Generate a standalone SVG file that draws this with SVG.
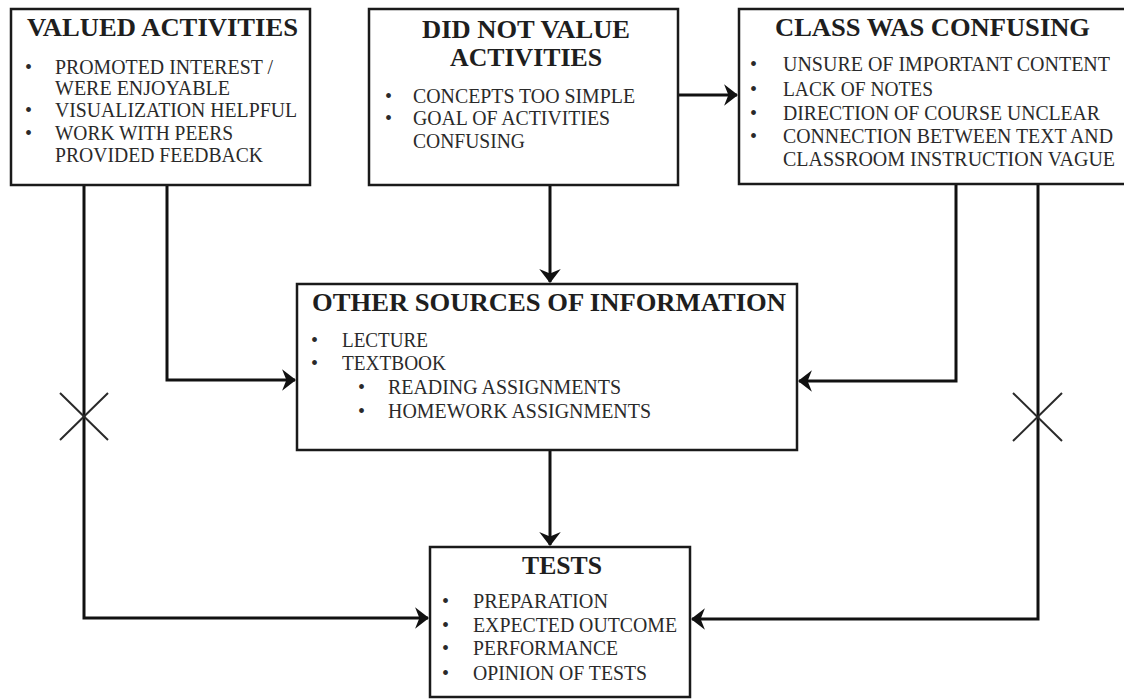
<svg xmlns="http://www.w3.org/2000/svg" width="1124" height="700" viewBox="0 0 1124 700">
<style>
.box{fill:#fff;stroke:#1a1a1a;stroke-width:2.5}
.t{font-family:"Liberation Serif","Times New Roman",serif;font-weight:bold;font-size:26px;fill:#1e1e1e}
.b{font-family:"Liberation Serif","Times New Roman",serif;font-size:20px;fill:#2a2a2a}
.c{fill:none;stroke:#111;stroke-width:3}
.x{stroke:#2a2a2a;stroke-width:2;fill:none}
</style>
<defs>
<marker id="ah" markerUnits="userSpaceOnUse" markerWidth="14" markerHeight="22" viewBox="0 0 13 20" refX="12" refY="10" orient="auto">
<path d="M0,0 L13,10 L0,20 L4,10 Z" fill="#111"/>
</marker>
</defs>
<rect width="1124" height="700" fill="#fff"/>

<g id="connectors">
<polyline class="c" points="84,185 84,618 428,618" marker-end="url(#ah)"/>
<polyline class="c" points="167,185 167,380 295,380" marker-end="url(#ah)"/>
<polyline class="c" points="550,185 550,282" marker-end="url(#ah)"/>
<polyline class="c" points="678,95 737,95" marker-end="url(#ah)"/>
<polyline class="c" points="956,185 956,381 799,381" marker-end="url(#ah)"/>
<polyline class="c" points="1038,185 1038,619 692,619" marker-end="url(#ah)"/>
<polyline class="c" points="550,450 550,545" marker-end="url(#ah)"/>
<path class="x" d="M60,393 L108,440 M108,393 L60,440"/>
<path class="x" d="M1013,393 L1062,441 M1062,393 L1013,441"/>
</g>

<g id="valued">
<rect class="box" x="11" y="9" width="299" height="176"/>
<text class="t" x="27" y="36" textLength="271" lengthAdjust="spacingAndGlyphs">VALUED ACTIVITIES</text>
<text class="b" x="25" y="74">•</text>
<text class="b" x="55" y="74" textLength="218" lengthAdjust="spacingAndGlyphs">PROMOTED INTEREST /</text>
<text class="b" x="55" y="95" textLength="175" lengthAdjust="spacingAndGlyphs">WERE ENJOYABLE</text>
<text class="b" x="25" y="117">•</text>
<text class="b" x="55" y="117" textLength="242" lengthAdjust="spacingAndGlyphs">VISUALIZATION HELPFUL</text>
<text class="b" x="25" y="140">•</text>
<text class="b" x="55" y="140" textLength="178" lengthAdjust="spacingAndGlyphs">WORK WITH PEERS</text>
<text class="b" x="55" y="162" textLength="208" lengthAdjust="spacingAndGlyphs">PROVIDED FEEDBACK</text>
</g>

<g id="didnot">
<rect class="box" x="369" y="9" width="309" height="176"/>
<text class="t" x="422" y="38" textLength="208" lengthAdjust="spacingAndGlyphs">DID NOT VALUE</text>
<text class="t" x="450" y="66" textLength="152" lengthAdjust="spacingAndGlyphs">ACTIVITIES</text>
<text class="b" x="385" y="103">•</text>
<text class="b" x="413" y="103" textLength="222" lengthAdjust="spacingAndGlyphs">CONCEPTS TOO SIMPLE</text>
<text class="b" x="385" y="125">•</text>
<text class="b" x="413" y="125" textLength="197" lengthAdjust="spacingAndGlyphs">GOAL OF ACTIVITIES</text>
<text class="b" x="413" y="148" textLength="112" lengthAdjust="spacingAndGlyphs">CONFUSING</text>
</g>

<g id="confusing">
<rect class="box" x="739" y="9" width="390" height="175"/>
<text class="t" x="775" y="36" textLength="315" lengthAdjust="spacingAndGlyphs">CLASS WAS CONFUSING</text>
<text class="b" x="750" y="71">•</text>
<text class="b" x="783" y="71" textLength="327" lengthAdjust="spacingAndGlyphs">UNSURE OF IMPORTANT CONTENT</text>
<text class="b" x="750" y="96">•</text>
<text class="b" x="783" y="96" textLength="150" lengthAdjust="spacingAndGlyphs">LACK OF NOTES</text>
<text class="b" x="750" y="120">•</text>
<text class="b" x="783" y="120" textLength="317" lengthAdjust="spacingAndGlyphs">DIRECTION OF COURSE UNCLEAR</text>
<text class="b" x="750" y="143">•</text>
<text class="b" x="783" y="143" textLength="330" lengthAdjust="spacingAndGlyphs">CONNECTION BETWEEN TEXT AND</text>
<text class="b" x="783" y="166" textLength="332" lengthAdjust="spacingAndGlyphs">CLASSROOM INSTRUCTION VAGUE</text>
</g>

<g id="other">
<rect class="box" x="297" y="284" width="500" height="166"/>
<text class="t" x="312" y="311" textLength="474" lengthAdjust="spacingAndGlyphs">OTHER SOURCES OF INFORMATION</text>
<text class="b" x="311" y="347">•</text>
<text class="b" x="342" y="347" textLength="86" lengthAdjust="spacingAndGlyphs">LECTURE</text>
<text class="b" x="311" y="370">•</text>
<text class="b" x="342" y="370" textLength="104" lengthAdjust="spacingAndGlyphs">TEXTBOOK</text>
<text class="b" x="358" y="394">•</text>
<text class="b" x="388" y="394" textLength="233" lengthAdjust="spacingAndGlyphs">READING ASSIGNMENTS</text>
<text class="b" x="358" y="418">•</text>
<text class="b" x="388" y="418" textLength="263" lengthAdjust="spacingAndGlyphs">HOMEWORK ASSIGNMENTS</text>
</g>

<g id="tests">
<rect class="box" x="430" y="547" width="260" height="150"/>
<text class="t" x="522" y="574" textLength="80" lengthAdjust="spacingAndGlyphs">TESTS</text>
<text class="b" x="442" y="608">•</text>
<text class="b" x="473" y="608" textLength="135" lengthAdjust="spacingAndGlyphs">PREPARATION</text>
<text class="b" x="442" y="632">•</text>
<text class="b" x="473" y="632" textLength="204" lengthAdjust="spacingAndGlyphs">EXPECTED OUTCOME</text>
<text class="b" x="442" y="655">•</text>
<text class="b" x="473" y="655" textLength="145" lengthAdjust="spacingAndGlyphs">PERFORMANCE</text>
<text class="b" x="442" y="680">•</text>
<text class="b" x="473" y="680" textLength="174" lengthAdjust="spacingAndGlyphs">OPINION OF TESTS</text>
</g>
</svg>
